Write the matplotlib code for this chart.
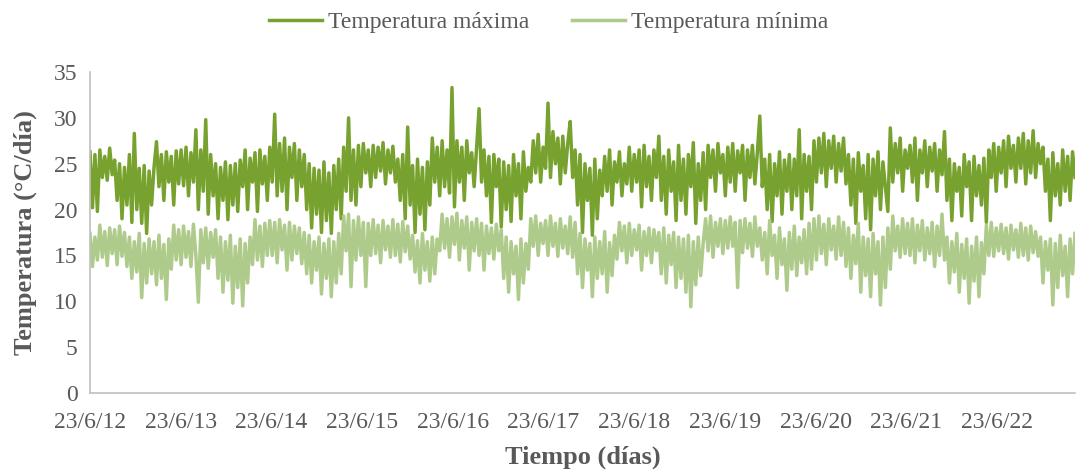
import matplotlib
matplotlib.use("Agg")
import matplotlib.pyplot as plt
import numpy as np
import pandas as pd

plt.rcParams['font.family'] = ['Liberation Serif', 'DejaVu Serif']

# valores, aprox. cada 10 días, por año (23/6 -> 23/6)
temp_max = [
    # 2012-13
    26.3, 20.2, 26.0, 19.8, 26.5, 23.5, 25.8, 23.2, 26.7, 23.8, 25.4,
    21.0, 25.0, 19.0, 24.6, 20.5, 26.0, 18.6, 28.3,
    20.0, 24.5, 18.5, 24.8, 17.4, 24.2, 20.5, 24.6,
    27.4, 22.5, 26.0, 21.0, 26.3, 23.0, 25.8, 20.5, 26.4, 22.8,
    # 2013-14
    26.5, 22.6, 26.8, 21.5, 26.2, 23.0, 28.7, 20.0, 26.5, 22.0, 29.8, 19.5, 26.0, 21.5,
    25.0, 19.0, 24.6, 21.0, 25.2, 18.9, 24.8, 20.5, 25.0, 19.8, 25.4,
    22.5, 26.5, 20.0, 25.6, 23.0, 26.2, 19.8, 26.5, 22.8, 25.8, 21.0, 26.8,
    # 2014-15
    23.0, 30.4, 21.5, 27.2, 22.0, 27.8, 20.0, 26.8, 23.5, 27.2, 21.0, 26.5, 22.5, 26.0,
    20.0, 25.0, 18.0, 24.5, 19.5, 24.3, 17.5, 25.2, 18.8, 24.0, 17.4, 24.8, 20.0, 25.5, 19.0,
    26.8, 22.0, 30.0, 21.0, 26.5, 20.5, 27.0, 22.5,
    # 2015-16
    27.2, 24.0, 26.5, 22.5, 27.0, 23.5, 26.8, 24.2, 27.3, 22.8, 26.5, 24.0, 26.9, 23.0,
    25.5, 21.0, 26.0, 19.0, 29.0, 20.5, 24.8, 17.5, 25.5, 19.5, 24.6, 17.8, 25.2, 20.5,
    27.8, 23.0, 26.8, 21.5, 27.5, 22.5, 26.5, 21.8, 33.3,
    # 2016-17
    20.3, 27.5, 23.0, 26.8, 21.0, 27.5, 24.0, 26.2, 22.5, 26.8,
    31.0, 23.0, 26.5, 21.5, 25.8, 18.6, 26.0, 22.5, 25.5, 18.1, 25.2,
    20.0, 24.8, 18.7, 26.0, 21.5, 25.0, 19.0, 26.3, 22.0, 24.6, 23.0,
    27.5, 24.0, 28.2, 23.0, 26.8,
    # 2017-18
    24.5, 31.6, 23.5, 28.5, 25.0, 27.8, 22.8, 28.0, 24.0, 27.2, 29.6, 23.5, 26.5,
    20.5, 26.0, 17.5, 25.0, 21.0, 24.5, 17.2, 25.5, 19.0, 24.3, 21.5,
    25.8, 22.0, 26.5, 20.5, 25.2, 23.0, 26.3, 21.5, 25.0, 22.8, 26.8, 22.0, 26.0,
    # 2018-19
    23.0, 26.5, 20.3, 27.0, 22.5, 25.8, 21.0, 26.5, 23.5,
    28.0, 21.0, 25.8, 19.5, 26.5, 22.0, 25.2, 18.8, 27.0, 21.0,
    25.5, 19.5, 26.0, 22.5, 27.3, 18.5, 25.0, 21.0, 26.2, 20.0,
    27.0, 23.5, 26.5, 22.0, 27.2, 24.0, 26.0, 21.5,
    # 2019-20
    26.8, 23.0, 27.2, 22.0, 26.4, 24.0, 27.0, 21.0, 26.5, 23.5, 27.0, 22.8, 26.2,
    30.2, 22.5, 25.5, 20.0, 26.0, 18.7, 25.0, 21.5, 26.3, 19.5, 25.4,
    22.0, 26.0, 20.0, 25.5, 21.5, 28.7, 19.0, 26.0, 22.0, 25.8,
    20.0, 27.5, 23.0,
    # 2020-21
    27.8, 24.0, 28.3, 22.5, 27.5, 24.5, 28.0, 23.0, 27.2, 24.2, 27.8, 22.8,
    26.0, 20.5, 25.5, 18.5, 26.2, 22.0, 24.8, 19.0, 26.0,
    17.8, 25.5, 21.5, 26.3, 20.0, 25.2, 22.5, 19.8, 28.9,
    23.0, 27.2, 24.0, 27.8, 22.0, 26.5, 24.5,
    # 2021-22
    27.0, 23.0, 27.8, 21.0, 26.5, 24.0, 27.5, 22.5, 26.8, 24.2, 27.2, 22.0, 26.5, 23.8, 28.5,
    21.0, 25.5, 18.8, 25.0, 22.0, 24.6, 19.3, 26.0, 22.5, 25.2, 18.8, 25.8, 21.5,
    24.8, 20.5, 25.6, 18.6,
    26.5, 23.5, 27.2, 22.0, 26.8,
    # 2022-23
    24.0, 27.5, 22.5, 28.0, 24.5, 27.0, 23.0, 27.8, 24.5, 28.3,
    22.8, 27.5, 24.0, 28.6, 23.5, 27.2, 25.0, 26.8, 22.0,
    25.5, 18.8, 26.2, 21.5, 25.0, 20.5, 26.5, 22.0, 25.8, 21.0, 26.3, 23.5,
]

temp_min = [
    # 2012-13
    17.4, 13.8, 17.0, 14.5,
    18.3, 14.8, 17.6, 13.9, 18.0, 15.2, 17.8, 14.0, 18.2, 14.9, 17.5, 13.8,
    17.0, 12.5, 16.5, 13.2, 17.4, 10.4, 16.3, 12.0, 16.8, 13.0, 16.5, 11.8,
    17.2, 12.5, 16.2, 10.2, 16.8, 13.5,
    18.3, 14.5, 17.8,
    # 2013-14
    14.0, 18.2, 14.8, 17.6, 13.8, 18.4, 15.0, 9.9, 17.8, 14.2, 18.0, 13.6, 17.5, 14.8, 17.8,
    12.5, 17.0, 11.0, 16.5, 12.3, 17.2, 9.8, 16.0, 11.5, 16.8, 9.5, 16.3, 12.0, 17.0,
    14.0, 18.9, 14.5, 18.2, 13.8, 18.5, 15.0, 18.8,
    # 2014-15
    15.0, 18.6, 14.2, 18.9, 15.6, 18.3, 13.4, 18.6, 14.5, 18.2, 15.2, 18.0, 14.1, 17.5,
    13.0, 17.2, 12.0, 16.5, 13.4, 17.0, 10.8, 16.3, 12.5, 16.8, 10.5, 16.5, 12.0, 17.4, 13.0,
    19.3, 15.5, 19.5, 11.6, 18.8, 14.5, 19.2, 15.0,
    # 2015-16
    18.6, 11.6, 18.5, 15.0,
    18.9, 15.2, 18.3, 14.2, 18.8, 15.6, 18.2, 14.8, 18.9, 15.0, 18.4, 14.3, 18.7, 15.4, 18.2, 14.6,
    17.2, 13.2, 16.6, 12.0, 17.4, 13.4, 16.5, 12.2, 17.0, 13.0, 16.8,
    15.5, 19.5, 15.8, 19.0, 14.8, 19.2,
    # 2016-17
    16.2, 19.6, 14.5, 18.8, 15.8, 19.2, 13.4, 18.6, 15.5, 19.0,
    15.0, 18.5, 13.4, 18.2, 15.2, 18.0, 14.6, 18.4, 15.5, 17.8,
    12.5, 17.0, 11.0, 16.5, 13.0, 16.0, 10.2, 16.8, 12.0, 16.3, 13.5,
    19.0, 16.0, 19.3, 15.0, 18.5, 16.3,
    # 2017-18
    18.8, 15.0, 19.3, 16.0, 18.5, 14.9, 19.0, 15.8, 18.2, 15.2, 19.2, 14.8, 18.6,
    13.0, 17.4, 11.5, 16.8, 13.4, 16.3, 10.5, 17.0, 12.5, 16.5, 13.0, 17.6, 11.0, 16.4, 12.8, 17.2,
    14.6, 18.6, 15.5, 18.2, 14.2, 18.5, 15.0, 17.8,
    # 2018-19
    15.6, 18.3, 13.4, 17.6, 15.0, 18.0, 14.2, 17.8, 15.5,
    17.5, 13.0, 18.0, 12.0, 17.2, 14.0, 17.5, 11.5, 17.0, 12.5,
    16.8, 11.0, 17.2, 9.4, 16.5, 11.8, 17.0, 12.8, 16.3,
    19.0, 15.5, 19.3, 14.8, 18.6, 16.0, 19.0, 15.2, 18.8,
    # 2019-20
    15.8, 19.2, 16.0, 18.6, 11.5, 18.8, 15.3, 19.0, 15.8, 18.5, 14.9, 19.2, 16.0,
    18.0, 14.5, 17.5, 13.0, 18.8, 15.0, 17.2, 12.5, 18.0, 14.0, 16.8,
    11.2, 17.5, 13.5, 18.2, 12.8, 17.0, 14.2, 17.8, 13.0, 18.5,
    13.5, 19.0, 14.5,
    # 2020-21
    19.3, 15.2, 18.4, 14.0, 19.0, 15.6, 18.2, 14.6, 19.2, 15.0, 18.6, 13.8,
    18.0, 12.5, 17.2, 14.1, 18.5, 11.0, 17.0, 12.8, 16.8,
    10.5, 17.4, 13.0, 16.5, 9.6, 17.0, 11.5, 18.0, 13.5,
    19.3, 15.5, 18.2, 14.8, 19.0, 15.2, 18.5,
    # 2021-22
    15.0, 19.0, 14.2, 18.3, 15.5, 18.8, 14.5, 18.0, 15.2, 18.6, 13.8, 18.2, 15.0, 19.5, 14.5,
    17.0, 12.0, 16.5, 13.2, 17.4, 11.0, 16.2, 12.5, 16.8, 9.8, 16.0, 12.2, 17.0, 10.5, 16.4, 13.0,
    18.3, 15.0, 18.6, 14.9, 18.0, 15.5,
    # 2022-23
    18.4, 15.2, 18.0, 14.6, 18.3, 15.6, 17.8, 14.8, 18.5, 15.0, 18.0, 14.5, 18.2, 15.3, 17.6, 14.9,
    17.0, 12.0, 16.5, 13.4, 16.8, 9.6, 16.3, 11.5, 17.2, 12.8, 16.0, 10.5, 16.8, 13.0, 17.4,
]

start = "2012-06-23"
end = "2023-05-03"
tick_years = list(range(2012, 2023))
tick_labels = ["23/6/%02d" % (y % 100) for y in tick_years]

n = min(len(temp_max), len(temp_min))
fechas = pd.date_range(start, end, periods=n)

col_max = "#78A22F"
col_min = "#AFCB8B"
gris = "#595959"

fig = plt.figure(figsize=(10.76, 4.71), dpi=100)
ax = fig.add_axes([90/1076, 1-393/471, 985/1076, (393-72)/471])

ax.plot(fechas, temp_max[:n], color=col_max, lw=2.5, label="Temperatura máxima")
ax.plot(fechas, temp_min[:n], color=col_min, lw=2.5, label="Temperatura mínima")

ax.set_xlim(fechas[0], fechas[-1])
ax.set_ylim(0, 35)
ax.set_yticks(range(0, 36, 5))
ticks = [pd.Timestamp(y, 6, 23) for y in tick_years]
ax.set_xticks(ticks)
ax.set_xticklabels(tick_labels)

for s in ["top", "right"]:
    ax.spines[s].set_visible(False)
for s in ["left", "bottom"]:
    ax.spines[s].set_color("#BFBFBF")
    ax.spines[s].set_linewidth(1.2)
ax.tick_params(length=0, labelsize=17, colors=gris)
ax.tick_params(axis="x", pad=14)
ax.tick_params(axis="y", pad=9)

ax.set_xlabel("Tiempo (días)", fontsize=19, fontweight="bold", color=gris, labelpad=9)
ax.set_ylabel("Temperatura (°C/día)", fontsize=19, fontweight="bold", color=gris, labelpad=12)

fig.legend(loc="upper center", bbox_to_anchor=(0.51, 1.02), ncol=2, frameon=False,
           fontsize=17, labelcolor=gris, handlelength=2.25, handletextpad=0.25,
           columnspacing=1.8)

fig.savefig("out.png", dpi=100)
